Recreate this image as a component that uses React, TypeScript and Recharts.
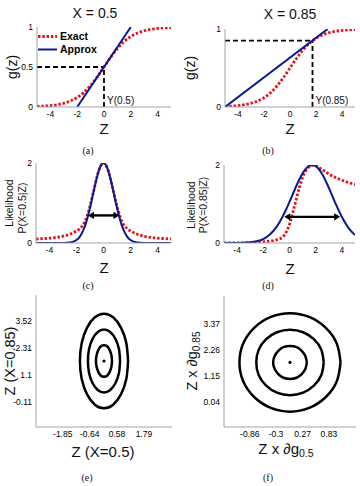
import React from "react";
import { LineChart, Line, XAxis, YAxis, ReferenceLine, ReferenceDot, Legend } from "recharts";

const RED = "#e3141b";
const BLUE = "#0b1a8f";
const FRAME = "#a3a3a3";
const SANS = '"Liberation Sans", Arial, sans-serif';
const SERIF = '"Liberation Serif", "Times New Roman", serif';

// logistic link g(z), sampled along Z
const zSig = [-5, -4.5, -4, -3.5, -3, -2.5, -2, -1.5, -1, -0.5, 0, 0.5, 1, 1.5, 2, 2.5, 3, 3.5, 4, 4.5, 5];
const gExact = [0.007, 0.011, 0.018, 0.029, 0.047, 0.076, 0.119, 0.182, 0.269, 0.378, 0.5, 0.622, 0.731, 0.818, 0.881, 0.924, 0.953, 0.971, 0.982, 0.989, 0.993];

// tangent (linearised) approximations
const zApproxA = [-2, 2];
const gApproxA = [0, 1];
const zApproxB = [-5, 2.9];
const gApproxB = [0, 1];

// observed X and the matching Y = g^-1(X)
const xObs = [0.5, 0.85];
const yHat = [0, 1.73];

// likelihood P(X=0.5|Z)
const zLikC = [-5, -4.5, -4, -3.5, -3, -2.5, -2, -1.75, -1.5, -1.25, -1, -0.75, -0.5, -0.25, 0, 0.25, 0.5, 0.75, 1, 1.25, 1.5, 1.75, 2, 2.5, 3, 3.5, 4, 4.5, 5];
const likExactC = [0.1, 0.11, 0.12, 0.14, 0.17, 0.22, 0.3, 0.36, 0.46, 0.64, 0.92, 1.27, 1.63, 1.9, 2, 1.9, 1.63, 1.27, 0.92, 0.64, 0.46, 0.36, 0.3, 0.22, 0.17, 0.14, 0.12, 0.11, 0.1];
const likApproxC = [0, 0, 0, 0, 0.001, 0.012, 0.075, 0.161, 0.315, 0.554, 0.879, 1.26, 1.628, 1.9, 2, 1.9, 1.628, 1.26, 0.879, 0.554, 0.315, 0.161, 0.075, 0.012, 0.001, 0, 0, 0, 0];

// likelihood P(X=0.85|Z)
const zLikD = [-5, -4.5, -4, -3.5, -3, -2.5, -2, -1.5, -1, -0.5, -0.25, 0, 0.25, 0.5, 0.75, 1, 1.25, 1.5, 1.75, 2, 2.5, 3, 3.5, 4, 4.5, 5];
const likExactD = [0, 0.001, 0.003, 0.005, 0.01, 0.018, 0.03, 0.05, 0.08, 0.16, 0.28, 0.48, 0.78, 1.1, 1.42, 1.68, 1.85, 1.95, 1.99, 1.98, 1.88, 1.77, 1.68, 1.61, 1.55, 1.5];
const likApproxD = [0, 0.0005, 0.002, 0.006, 0.017, 0.044, 0.102, 0.215, 0.407, 0.692, 0.865, 1.055, 1.25, 1.448, 1.63, 1.785, 1.905, 1.978, 2, 1.969, 1.762, 1.417, 1.024, 0.665, 0.388, 0.203];

// width arrows: [from, to, height]
const arrowC = [-1.15, 1.18, 0.69];
const arrowD = [-0.4, 3.87, 0.67];

// joint posterior contours around (Y(0.5), Y(0.85))
const innerX = [0.36, 0.33, 0.25, 0.14, 0, -0.14, -0.25, -0.33, -0.36, -0.33, -0.25, -0.14, 0, 0.14, 0.25, 0.33, 0.36];
const innerY = [1.73, 2.0, 2.23, 2.39, 2.44, 2.39, 2.23, 2.0, 1.73, 1.46, 1.23, 1.07, 1.02, 1.07, 1.23, 1.46, 1.73];
const midX = [0.72, 0.67, 0.51, 0.28, 0, -0.28, -0.51, -0.67, -0.72, -0.67, -0.51, -0.28, 0, 0.28, 0.51, 0.67, 0.72];
const midY = [1.73, 2.27, 2.73, 3.03, 3.14, 3.03, 2.73, 2.27, 1.73, 1.19, 0.73, 0.43, 0.32, 0.43, 0.73, 1.19, 1.73];
const outerX = [1.08, 1.0, 0.76, 0.41, 0, -0.41, -0.76, -1.0, -1.08, -1.0, -0.76, -0.41, 0, 0.41, 0.76, 1.0, 1.08];
const outerY = [1.73, 2.54, 3.23, 3.69, 3.85, 3.69, 3.23, 2.54, 1.73, 0.92, 0.23, -0.23, -0.39, -0.23, 0.23, 0.92, 1.73];

// tick labels
const zTicks = [-4, -2, 0, 2, 4];
const eTicksX = [-1.85, -0.64, 0.58, 1.79];
const eTicksY = [-0.11, 1.1, 2.31, 3.52];
const fTicksX = [-0.86, -0.3, 0.27, 0.83];
const fTicksY = [0.04, 1.15, 2.26, 3.37];

const rows = (xs: number[], ys: number[]) => xs.map((z, i) => ({ z, v: ys[i] }));
const contours = [rows(innerX, innerY), rows(midX, midY), rows(outerX, outerY)];

type Box = { x: number; y: number; w: number; h: number };
const PAD_L = 34, PAD_T = 6, PAD_R = 6, PAD_B = 18;
const tickFont = { fontSize: 8.5, fill: "#000", fontFamily: SANS };

function frame(xDomain: number[], xTicks: number[], yDomain: number[], yTicks: number[], innerTicks: number[]) {
  return [
    <XAxis key="xb" type="number" dataKey="z" domain={xDomain} ticks={xTicks} interval={0} allowDataOverflow
      height={PAD_B} tickLine={false} tickSize={2} tickMargin={2} axisLine={{ stroke: FRAME }} tick={tickFont} />,
    <XAxis key="xt" xAxisId="top" orientation="top" type="number" dataKey="z" domain={xDomain} allowDataOverflow
      height={0} tick={false} tickLine={false} axisLine={{ stroke: FRAME }} />,
    <YAxis key="yl" type="number" domain={yDomain} ticks={yTicks} interval={0} allowDataOverflow
      width={PAD_L} tickLine={false} tickSize={2} tickMargin={2} axisLine={{ stroke: FRAME }} tick={tickFont} />,
    <YAxis key="yr" yAxisId="right" orientation="right" mirror type="number" domain={yDomain} ticks={innerTicks}
      interval={0} allowDataOverflow width={0} tick={false} tickSize={3} tickLine={{ stroke: FRAME }} axisLine={{ stroke: FRAME }} />,
  ];
}

function Panel({ box, children }: { box: Box; children: React.ReactNode }) {
  return (
    <div style={{ position: "absolute", left: box.x - PAD_L, top: box.y - PAD_T }}>
      <LineChart width={box.w + PAD_L + PAD_R} height={box.h + PAD_T + PAD_B}
        margin={{ top: PAD_T, right: PAD_R, bottom: 0, left: 0 }}>
        {children}
      </LineChart>
    </div>
  );
}

function DoubleArrow(p: any) {
  const a = Math.min(p.x1, p.x2), b = Math.max(p.x1, p.x2), y = p.y1;
  const head = 6, half = 3.6;
  return (
    <g>
      <line x1={a + head - 1} y1={y} x2={b - head + 1} y2={y} stroke="#000" strokeWidth={2.4} />
      <polygon points={`${a},${y} ${a + head},${y - half} ${a + head},${y + half}`} fill="#000" />
      <polygon points={`${b},${y} ${b - head},${y - half} ${b - head},${y + half}`} fill="#000" />
    </g>
  );
}

const legendItems = [
  { name: "Exact", color: RED, dash: "2.5 1.8", width: 2.8 },
  { name: "Approx", color: BLUE, dash: undefined, width: 2 },
];

function LegendBox() {
  return (
    <div style={{ fontFamily: SANS, fontSize: 10.5, fontWeight: 700, lineHeight: "13px", color: "#000" }}>
      {legendItems.map((it) => (
        <div key={it.name} style={{ display: "flex", alignItems: "center", height: 13 }}>
          <svg width={20} height={13}>
            <line x1={0} x2={19} y1={6.5} y2={6.5} stroke={it.color} strokeWidth={it.width} strokeDasharray={it.dash} />
          </svg>
          <span style={{ marginLeft: 2 }}>{it.name}</span>
        </div>
      ))}
    </div>
  );
}

const dotted = { stroke: RED, strokeWidth: 2.8, strokeDasharray: "2.5 1.8" };
const dashed = { stroke: "#000", strokeWidth: 1.8, strokeDasharray: "5 3" };

function yLabel(text: string) {
  return (props: any) => (
    <text x={props.viewBox.x + 3} y={props.viewBox.y - 3} fontSize={10} fontFamily={SANS} fill="#111">{text}</text>
  );
}

function Txt({ x, y, size, rotate, serif, children }: { x: number; y: number; size: number; rotate?: boolean; serif?: boolean; children: React.ReactNode }) {
  return (
    <div style={{
      position: "absolute", left: x, top: y, whiteSpace: "nowrap", lineHeight: 1,
      fontFamily: serif ? SERIF : SANS, fontSize: size, color: "#111",
      transform: `translate(-50%, -50%)${rotate ? " rotate(-90deg)" : ""}`,
    }}>{children}</div>
  );
}

const boxA: Box = { x: 37, y: 27, w: 134, h: 80 };
const boxB: Box = { x: 225, y: 29, w: 130, h: 78 };
const boxC: Box = { x: 36, y: 163, w: 135, h: 80 };
const boxD: Box = { x: 224, y: 165, w: 131, h: 78 };
const boxE: Box = { x: 36, y: 295, w: 136, h: 132 };
const boxF: Box = { x: 224, y: 296, w: 132, h: 131 };

const sub = { fontSize: "0.7em", verticalAlign: "-0.3em" };

export default function App() {
  return (
    <div style={{ position: "absolute", left: 0, top: 0, width: 360, height: 486, background: "#fff", overflow: "hidden" }}>
      {/* (a) logistic link at X = 0.5 */}
      <Panel box={boxA}>
        {frame([-5, 5], zTicks, [0, 1], [0, 0.5, 1], [0.2, 0.4, 0.6, 0.8])}
        <ReferenceLine segment={[{ x: -5, y: xObs[0] }, { x: yHat[0], y: xObs[0] }]} {...dashed} />
        <ReferenceLine segment={[{ x: yHat[0], y: 0 }, { x: yHat[0], y: xObs[0] }]} {...dashed} />
        <ReferenceDot x={yHat[0]} y={0} r={0.01} fill="none" stroke="none" label={yLabel("Y(0.5)")} />
        <Line data={rows(zSig, gExact)} dataKey="v" type="monotone" dot={false} isAnimationActive={false} {...dotted} />
        <Line data={rows(zApproxA, gApproxA)} dataKey="v" type="linear" dot={false} isAnimationActive={false} stroke={BLUE} strokeWidth={2} />
        <Legend layout="vertical" align="center" verticalAlign="middle" content={() => <LegendBox />}
          wrapperStyle={{ left: 35, top: 9, width: "auto" }} />
      </Panel>

      {/* (b) logistic link at X = 0.85 */}
      <Panel box={boxB}>
        {frame([-5, 5], zTicks, [0, 1], [0, 1], [0.2, 0.4, 0.6, 0.8])}
        <ReferenceLine segment={[{ x: -5, y: xObs[1] }, { x: yHat[1], y: xObs[1] }]} {...dashed} />
        <ReferenceLine segment={[{ x: yHat[1], y: 0 }, { x: yHat[1], y: xObs[1] }]} {...dashed} />
        <ReferenceDot x={yHat[1]} y={0} r={0.01} fill="none" stroke="none" label={yLabel("Y(0.85)")} />
        <Line data={rows(zSig, gExact)} dataKey="v" type="monotone" dot={false} isAnimationActive={false} {...dotted} />
        <Line data={rows(zApproxB, gApproxB)} dataKey="v" type="linear" dot={false} isAnimationActive={false} stroke={BLUE} strokeWidth={2} />
      </Panel>

      {/* (c) likelihood at X = 0.5 */}
      <Panel box={boxC}>
        {frame([-5, 5], zTicks, [0, 2], [0, 2], [0.333, 0.667, 1, 1.333, 1.667])}
        <Line data={rows(zLikC, likExactC)} dataKey="v" type="monotone" dot={false} isAnimationActive={false} {...dotted} />
        <Line data={rows(zLikC, likApproxC)} dataKey="v" type="monotone" dot={false} isAnimationActive={false} stroke={BLUE} strokeWidth={2} />
        <ReferenceLine segment={[{ x: arrowC[0], y: arrowC[2] }, { x: arrowC[1], y: arrowC[2] }]} shape={(p: any) => <DoubleArrow {...p} />} />
      </Panel>

      {/* (d) likelihood at X = 0.85 */}
      <Panel box={boxD}>
        {frame([-5, 5], zTicks, [0, 2], [0, 2], [0.333, 0.667, 1, 1.333, 1.667])}
        <Line data={rows(zLikD, likExactD)} dataKey="v" type="monotone" dot={false} isAnimationActive={false} {...dotted} />
        <Line data={rows(zLikD, likApproxD)} dataKey="v" type="monotone" dot={false} isAnimationActive={false} stroke={BLUE} strokeWidth={2} />
        <ReferenceLine segment={[{ x: arrowD[0], y: arrowD[2] }, { x: arrowD[1], y: arrowD[2] }]} shape={(p: any) => <DoubleArrow {...p} />} />
      </Panel>

      {/* (e) joint contours in Z space */}
      <Panel box={boxE}>
        {frame([-3.05, 3.05], eTicksX, [-1.23, 4.69], eTicksY, [])}
        {contours.map((c, i) => (
          <Line key={i} data={c} dataKey="v" type="natural" dot={false} isAnimationActive={false} stroke="#000" strokeWidth={2.5} />
        ))}
        <ReferenceDot x={yHat[0]} y={yHat[1]} r={1.6} fill="#000" stroke="none" />
      </Panel>

      {/* (f) joint contours in scaled space */}
      <Panel box={boxF}>
        {frame([-1.41, 1.41], fTicksX, [-1.05, 4.59], fTicksY, [])}
        {contours.map((c, i) => (
          <Line key={i} data={c} dataKey="v" type="natural" dot={false} isAnimationActive={false} stroke="#000" strokeWidth={2.5} />
        ))}
        <ReferenceDot x={yHat[0]} y={yHat[1]} r={1.6} fill="#000" stroke="none" />
      </Panel>

      <Txt x={95} y={13} size={14}>X = 0.5</Txt>
      <Txt x={290} y={14} size={14}>X = 0.85</Txt>
      <Txt x={12} y={67} size={14} rotate>g(z)</Txt>
      <Txt x={190} y={68} size={14} rotate>g(z)</Txt>
      <Txt x={104} y={128} size={15}>Z</Txt>
      <Txt x={290} y={128} size={15}>Z</Txt>
      <Txt x={88} y={151} size={10} serif>(a)</Txt>
      <Txt x={268} y={151} size={10} serif>(b)</Txt>

      <Txt x={9} y={203} size={10.5} rotate>Likelihood</Txt>
      <Txt x={22} y={208} size={10.5} rotate>P(X=0.5|Z)</Txt>
      <Txt x={191} y={205} size={10.5} rotate>Likelihood</Txt>
      <Txt x={203} y={205} size={10.5} rotate>P(X=0.85|Z)</Txt>
      <Txt x={104} y={267} size={15}>Z</Txt>
      <Txt x={290} y={268} size={15}>Z</Txt>
      <Txt x={88} y={286} size={10} serif>(c)</Txt>
      <Txt x={268} y={286} size={10} serif>(d)</Txt>

      <Txt x={10} y={361} size={14.5} rotate>Z (X=0.85)</Txt>
      <Txt x={103} y={451} size={15}>Z (X=0.5)</Txt>
      <Txt x={194} y={361} size={14.5} rotate>Z x ∂g<span style={sub}>0.85</span></Txt>
      <Txt x={286} y={450} size={15}>Z x ∂g<span style={sub}>0.5</span></Txt>
      <Txt x={87} y={478} size={10} serif>(e)</Txt>
      <Txt x={268} y={478} size={10} serif>(f)</Txt>
    </div>
  );
}
